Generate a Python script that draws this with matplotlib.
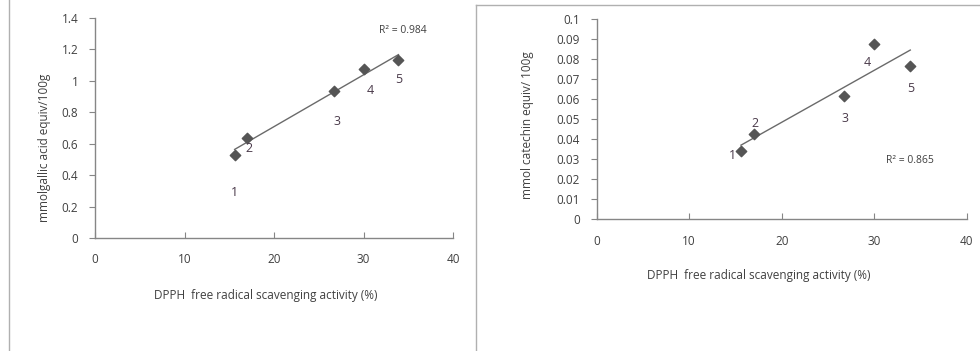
import numpy as np
import matplotlib
matplotlib.use('Agg')
import matplotlib.pyplot as plt
from matplotlib.lines import Line2D

plt.rcParams['font.family'] = ['Open Sans', 'DejaVu Sans']

# DPPH scavenging activity (%) for samples 1-5
dpph = [15.6, 17.0, 26.7, 30.0, 33.9]
sample_ids = ['1', '2', '3', '4', '5']

# left panel: phenolics, mmol gallic acid equiv / 100 g
gallic = [0.530, 0.635, 0.937, 1.073, 1.133]
gallic_lbl_x = [15.6, 17.2, 27.0, 30.8, 33.9]
gallic_lbl_y = [0.29, 0.57, 0.74, 0.94, 1.01]

# right panel: flavonoids, mmol catechin equiv / 100 g
catechin = [0.0342, 0.0425, 0.0618, 0.0878, 0.0765]
cat_lbl_x = [14.7, 17.1, 26.85, 29.3, 33.9]
cat_lbl_y = [0.0318, 0.0480, 0.0502, 0.0785, 0.0652]

grey = '#868686'
txt = '#404040'
marker_c = '#555555'

fig = plt.figure(figsize=(9.8, 3.51), dpi=100)

# page frame lines
fig.add_artist(Line2D([9 / 980, 9 / 980], [0.0, 1.0], color='#b0b0b0', lw=1.0))
fig.add_artist(Line2D([476 / 980, 476 / 980], [0.0, 1 - 5 / 351], color='#b0b0b0', lw=1.0))
fig.add_artist(Line2D([476 / 980, 1.0], [1 - 5 / 351, 1 - 5 / 351], color='#b0b0b0', lw=1.0))


def style(ax):
    for s in ['top', 'right']:
        ax.spines[s].set_visible(False)
    for s in ['left', 'bottom']:
        ax.spines[s].set_color(grey)
        ax.spines[s].set_linewidth(1.0)
    ax.tick_params(axis='y', direction='out', length=4, color=grey,
                   labelsize=8.5, labelcolor=txt, pad=8)
    ax.tick_params(axis='x', direction='in', length=4, color=grey,
                   labelsize=8.5, labelcolor=txt, pad=11)
    ax.set_xlim(0, 40)
    ax.set_xticks([0, 10, 20, 30, 40])


def draw(ax, y, lx, ly):
    ax.scatter(dpph, y, marker='D', s=28, color=marker_c, zorder=3)
    k, b = np.polyfit(dpph, y, 1)
    xs = np.array([min(dpph), max(dpph)])
    ax.plot(xs, k * xs + b, color='#6a6a6a', lw=1.0, zorder=2)
    for i, s in enumerate(sample_ids):
        ax.text(lx[i], ly[i], s, fontsize=9, color='#4a3a4a',
                ha='center', va='center')


# left panel
ax1 = fig.add_axes([95 / 980, 1 - 238 / 351, 358 / 980, 220 / 351])
style(ax1)
ax1.set_ylim(0, 1.4)
ax1.set_yticks([0, 0.2, 0.4, 0.6, 0.8, 1.0, 1.2, 1.4])
ax1.set_yticklabels(['0', '0.2', '0.4', '0.6', '0.8', '1', '1.2', '1.4'])
draw(ax1, gallic, gallic_lbl_x, gallic_lbl_y)
ax1.text(34.4, 1.32, 'R² = 0.984', fontsize=7.5, color=txt, ha='center', va='center')
ax1.set_ylabel('mmolgallic acid equiv/100g', fontsize=8.5, color=txt)
ax1.set_xlabel('DPPH  free radical scavenging activity (%)', fontsize=8.5, color=txt)
ax1.yaxis.set_label_coords((51 - 95) / 358, 0.41)
ax1.xaxis.set_label_coords((266 - 95) / 358, -(289 - 238) / 220)

# right panel
ax2 = fig.add_axes([596.7 / 980, 1 - 219.3 / 351, 370 / 980, 200 / 351])
style(ax2)
ax2.set_ylim(0, 0.1)
ax2.set_yticks(np.arange(0, 0.1001, 0.01))
ax2.set_yticklabels(['0', '0.01', '0.02', '0.03', '0.04', '0.05', '0.06',
                     '0.07', '0.08', '0.09', '0.1'])
draw(ax2, catechin, cat_lbl_x, cat_lbl_y)
ax2.text(33.9, 0.0292, 'R² = 0.865', fontsize=7.5, color=txt, ha='center', va='center')
ax2.set_ylabel('mmol catechin equiv/ 100g', fontsize=8.5, color=txt)
ax2.set_xlabel('DPPH  free radical scavenging activity (%)', fontsize=8.5, color=txt)
ax2.yaxis.set_label_coords((534 - 596.7) / 370, 0.47)
ax2.xaxis.set_label_coords((759 - 596.7) / 370, -(269 - 219.3) / 200)

fig.savefig('out.png', dpi=100)
